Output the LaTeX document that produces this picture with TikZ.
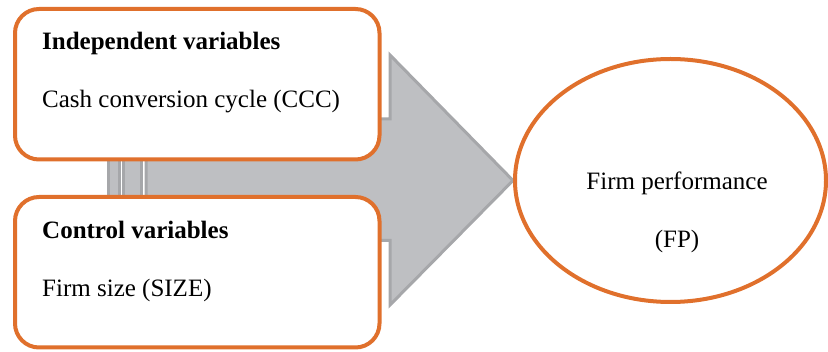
\documentclass[tikz,border=0pt]{standalone}
\usepackage{fontspec}
\setmainfont{Liberation Serif}
\usetikzlibrary{shapes.geometric,backgrounds}
\definecolor{boxorange}{RGB}{224,112,44}
\definecolor{arrowgray}{RGB}{190,191,194}
\definecolor{arrowedge}{RGB}{166,167,170}

\begin{document}
\begin{tikzpicture}[x=1pt,y=-1pt]
\tikzstyle{every node}+=[inner sep=0pt, font=\fontsize{25}{30}\selectfont]
\tikzstyle{varbox}=[draw=boxorange, line width=4pt, fill=white, rounded corners=24pt, minimum width=364.5pt, minimum height=150.5pt]
\tikzstyle{stripe}=[draw=arrowedge, fill=arrowgray, line width=3pt, line join=miter]
\useasboundingbox (0,0) rectangle (828,352);
% boxes
\node[varbox] (indep) at (197.25,84.25) {};
\node[varbox] (ctrl) at (197.25,272.25) {};
\node[draw=boxorange, line width=4pt, ellipse, minimum width=311pt, minimum height=243pt] (fp) at (670.5,180.5) {};
% texts
\node[anchor=base west] (indeptitle) at (42,50) {\textbf{Independent variables}};
\node[anchor=base west] (ccc) at (42,108) {Cash conversion cycle (CCC)};
\node[anchor=base west] (ctrltitle) at (42,239) {\textbf{Control variables}};
\node[anchor=base west] (size) at (42,297) {Firm size (SIZE)};
\node[anchor=base] (fptext) at (677,190) {Firm performance};
\node[anchor=base] (fpabbr) at (677,248) {(FP)};
% striped arrow
\begin{scope}[on background layer]
\draw[stripe] (108,119) rectangle (119,240.5);
\draw[stripe] (123.5,119) rectangle (141.5,240.5);
\draw[stripe] (146,119) -- (390,119) -- (390,55) -- (fp.west) -- (390,305) -- (390,240.5) -- (146,240.5) -- cycle;
\end{scope}
\end{tikzpicture}
\end{document}
